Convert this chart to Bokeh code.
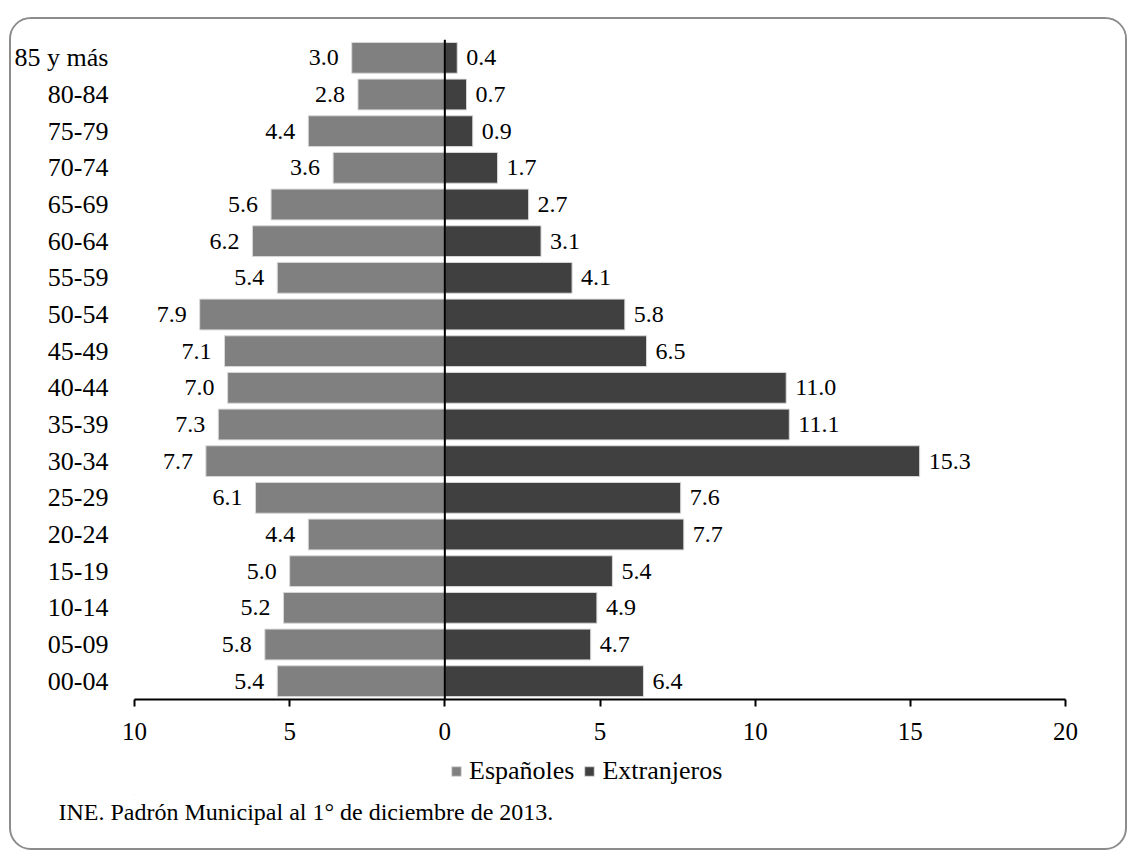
from bokeh.plotting import figure
from bokeh.layouts import column
from bokeh.models import (ColumnDataSource, FactorRange, FixedTicker, Span, Legend,
                          LegendItem, Spacer)
from bokeh.core.properties import value
from bokeh.embed import file_html
from bokeh.resources import INLINE

# ---- data (top to bottom as in the chart) ----
age_groups = ["85 y más", "80-84", "75-79", "70-74", "65-69", "60-64", "55-59",
              "50-54", "45-49", "40-44", "35-39", "30-34", "25-29", "20-24",
              "15-19", "10-14", "05-09", "00-04"]
espanoles = [3.0, 2.8, 4.4, 3.6, 5.6, 6.2, 5.4, 7.9, 7.1, 7.0, 7.3, 7.7, 6.1, 4.4,
             5.0, 5.2, 5.8, 5.4]
extranjeros = [0.4, 0.7, 0.9, 1.7, 2.7, 3.1, 4.1, 5.8, 6.5, 11.0, 11.1, 15.3, 7.6,
               7.7, 5.4, 4.9, 4.7, 6.4]
x_ticks = [-10, -5, 0, 5, 10, 15, 20]
x_tick_labels = ["10", "5", "0", "5", "10", "15", "20"]
series_names = ["Españoles", "Extranjeros"]
source_note = "INE. Padrón Municipal al 1° de diciembre de 2013."

FONT = "Liberation Serif"
GFONT = "Times New Roman"
C_ESP = "#808080"
C_EXT = "#404040"
BAR_LINE = "#d9d9d9"
HOST_FONT = {"font-family": "'Liberation Serif', 'Times New Roman', serif"}

src = ColumnDataSource(dict(
    age=age_groups,
    esp_neg=[-v for v in espanoles],
    ext=extranjeros,
    esp_txt=["%.1f" % v for v in espanoles],
    ext_txt=["%.1f" % v for v in extranjeros],
))

# ---------------- main chart ----------------
p = figure(width=1114, height=731, output_backend="svg", toolbar_location=None,
           y_range=FactorRange(factors=list(reversed(age_groups))),
           x_range=(-10, 20),
           min_border_left=119, min_border_right=60, min_border_top=20,
           min_border_bottom=51)
p.styles = dict(HOST_FONT)
p.outline_line_color = None
p.xgrid.visible = False
p.ygrid.visible = False
p.background_fill_color = "white"
p.border_fill_color = "white"

p.hbar(y="age", left="esp_neg", right=0, height=0.84, source=src,
       fill_color=C_ESP, line_color=BAR_LINE, line_width=1)
p.hbar(y="age", left=0, right="ext", height=0.84, source=src,
       fill_color=C_EXT, line_color=BAR_LINE, line_width=1)

p.text(x="esp_neg", y="age", text="esp_txt", source=src, x_offset=-13,
       text_align="right", text_baseline="middle", text_font=value(GFONT),
       text_font_size="24px", text_color="black")
p.text(x="ext", y="age", text="ext_txt", source=src, x_offset=9,
       text_align="left", text_baseline="middle", text_font=value(GFONT),
       text_font_size="24px", text_color="black")

p.add_layout(Span(location=0, dimension="height", line_color="black", line_width=2))

xa = p.xaxis[0]
xa.ticker = FixedTicker(ticks=x_ticks)
xa.major_label_overrides = {t: l for t, l in zip(x_ticks, x_tick_labels)}
xa.axis_line_color = "black"
xa.axis_line_width = 2
xa.major_tick_line_color = "black"
xa.major_tick_line_width = 2
xa.major_tick_out = 7
xa.major_tick_in = 0
xa.minor_tick_line_color = None
xa.major_label_text_font = FONT
xa.major_label_text_font_size = "25px"
xa.major_label_text_color = "black"
xa.major_label_standoff = 16

ya = p.yaxis[0]
ya.axis_line_color = None
ya.major_tick_line_color = None
ya.minor_tick_line_color = None
ya.major_label_text_font = FONT
ya.major_label_text_font_size = "26px"
ya.major_label_text_color = "black"
ya.major_label_standoff = 20

# ---------------- legend + source strip ----------------
q = figure(width=1114, height=76, output_backend="svg", toolbar_location=None,
           x_range=(0, 1), y_range=(0, 1), title=source_note,
           title_location="below",
           min_border_left=0, min_border_right=0, min_border_top=0,
           min_border_bottom=0)
q.styles = dict(HOST_FONT)
q.axis.visible = False
q.grid.visible = False
q.outline_line_color = None
q.background_fill_color = "white"
q.border_fill_color = "white"
q.title.align = "left"
q.title.offset = -76
q.title.standoff = 4
q.title.text_font = GFONT
q.title.text_font_size = "24px"
q.title.text_font_style = "normal"
q.title.text_color = "black"

# legend swatches: one invisible entry each (outside the strip's visible range)
swatch = ColumnDataSource(dict(y=[-1], right=[0]))
g_esp = q.hbar(y="y", right="right", left=0, height=0.5, source=swatch,
               fill_color=C_ESP, line_color=BAR_LINE, line_width=1)
g_ext = q.hbar(y="y", right="right", left=0, height=0.5, source=swatch,
               fill_color=C_EXT, line_color=BAR_LINE, line_width=1)

legend = Legend(items=[LegendItem(label=series_names[0], renderers=[g_esp]),
                       LegendItem(label=series_names[1], renderers=[g_ext])],
                location=(316, 8), orientation="horizontal",
                label_text_font=GFONT, label_text_font_size="26px",
                label_text_color="black", glyph_width=12, glyph_height=12,
                label_standoff=7, spacing=9, padding=0, margin=0,
                border_line_color=None, background_fill_alpha=0)
q.add_layout(legend, "center")

bottom_gap = Spacer(width=1114, height=22)

layout = column(p, q, bottom_gap, spacing=0,
                styles={"margin-left": "9px", "margin-top": "17px",
                        "border": "2px solid #8c8c8c", "border-radius": "22px",
                        "overflow": "hidden", "background-color": "white",
                        **HOST_FONT})

open("out.html", "w").write(file_html(layout, INLINE))
